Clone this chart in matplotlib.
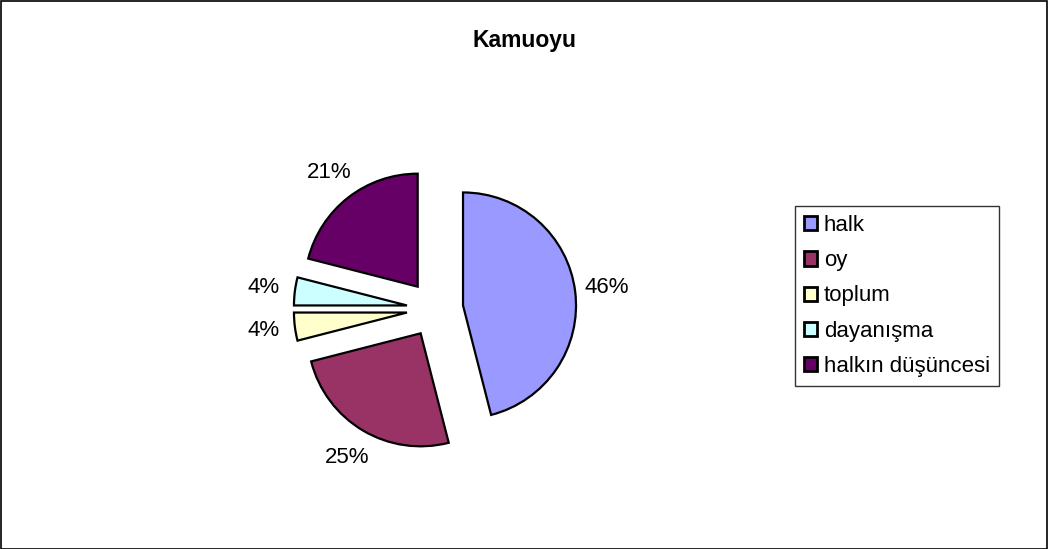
import matplotlib
matplotlib.use("Agg")
import matplotlib.pyplot as plt
from matplotlib.patches import Rectangle

plt.rcParams["font.family"] = ["Liberation Sans", "DejaVu Sans"]

labels = ["halk", "oy", "toplum", "dayanışma", "halkın düşüncesi"]
values = [46, 25, 4, 4, 21]
colors = ["#9999FF", "#993366", "#FFFFCC", "#CCFFFF", "#660066"]

W, H = 1048, 549
fig = plt.figure(figsize=(W / 100, H / 100), dpi=100)

# pie axes: centre ~ (435, 309) px, radius ~113 px
half = 150
ax = fig.add_axes([(435 - half) / W, (H - 309 - half) / H, 2 * half / W, 2 * half / H])
wedges, _, autotexts = ax.pie(values, colors=colors, startangle=90, counterclock=False,
                              explode=[0.25] * len(values), autopct="%1.0f%%",
                              pctdistance=1.28, labeldistance=None,
                              wedgeprops=dict(edgecolor="black", linewidth=1.6))
for t in autotexts:
    t.set_fontsize(16)
lim = half / 113
ax.set_xlim(-lim, lim); ax.set_ylim(-lim, lim)
ax.set_aspect("equal")
ax.axis("off")

fig.text(0.5, 1 - 40 / H, "Kamuoyu", ha="center", va="center", fontsize=16.5, fontweight="bold")

leg = fig.legend(wedges, labels, loc="center left", bbox_to_anchor=(795 / W, 1 - 296 / H),
                 fontsize=16, frameon=True, fancybox=False, edgecolor="black",
                 handlelength=0.6, handleheight=0.6, handletextpad=0.3,
                 labelspacing=0.64, borderpad=0.4, borderaxespad=0)
leg.get_frame().set_linewidth(1.0)
for h in leg.legend_handles:
    h.set_linewidth(2)

fig.patches.append(Rectangle((0.5 / W, 0.5 / H), 1 - 1.5 / W, 1 - 1.5 / H, transform=fig.transFigure,
                             fill=False, edgecolor="black", linewidth=1.2))

fig.savefig("out.png", dpi=100)
